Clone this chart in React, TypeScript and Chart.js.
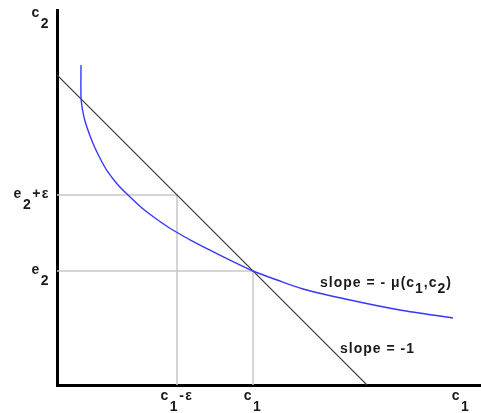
import React, { useEffect, useRef } from "react";
import { Chart, registerables } from "chart.js";

Chart.register(...registerables);

// ---- data (1 unit = 40px in the reference) ----
const C1 = 4.9; // endowment c1
const E2 = 2.85; // endowment e2
const EPS = 1.9; // epsilon
const BUDGET = C1 + E2; // x + y = const, slope -1

const curveX = [0.6, 0.6, 0.63, 0.7, 0.825, 0.95, 1.125, 1.275, 1.525, 1.775, 2.125, 2.45, 2.775, 3.025, 3.325, 3.825, 4.325, 4.9, 5.5, 6.15, 7.325, 8.575, 9.9];
const curveY = [8.0, 7.2, 6.925, 6.6, 6.23, 5.925, 5.575, 5.32, 5.0, 4.75, 4.425, 4.175, 3.95, 3.8, 3.63, 3.37, 3.12, 2.85, 2.625, 2.4, 2.125, 1.875, 1.675];

const budgetX = [0, BUDGET];
const budgetY = [BUDGET, 0];

const xTickValues = [C1 - EPS, C1, 10.1];
const xTickLabels = ["c_1-ε", "c_1", "c_1"];
const yTickValues = [E2, E2 + EPS, 9.275];
const yTickLabels = ["e_2", "e_2+ε", "c_2"];

const annotationTexts = ["slope = - μ(c_1,c_2)", "slope = -1"];

const X_MAX = 10.6;
const Y_MAX = 9.375;

const pts = (xs: number[], ys: number[]) => xs.map((x, i) => ({ x, y: ys[i] }));

type Part = { t: string; sub: boolean };
function parseRich(s: string): Part[] {
  const parts: Part[] = [];
  let buf = "";
  let i = 0;
  while (i < s.length) {
    if (s[i] === "_" && i + 1 < s.length) {
      if (buf) parts.push({ t: buf, sub: false });
      buf = "";
      parts.push({ t: s[i + 1], sub: true });
      i += 2;
    } else {
      buf += s[i];
      i++;
    }
  }
  if (buf) parts.push({ t: buf, sub: false });
  return parts;
}

function drawRich(ctx: CanvasRenderingContext2D, s: string, x: number, y: number, align: "left" | "center" | "right", subOffset: number) {
  const parts = parseRich(s);
  const widths = parts.map((p) => ctx.measureText(p.t).width);
  const total = widths.reduce((a, b) => a + b, 0);
  let cx = align === "right" ? x - total : align === "center" ? x - total / 2 : x;
  ctx.textAlign = "left";
  ctx.textBaseline = "alphabetic";
  parts.forEach((p, i) => {
    ctx.fillText(p.t, cx, y + (p.sub ? subOffset : 0));
    cx += widths[i];
  });
}

const labelPlugin = {
  id: "richLabels",
  afterDraw(chart: any) {
    const ctx: CanvasRenderingContext2D = chart.ctx;
    const xs = chart.scales.x;
    const ys = chart.scales.y;
    const area = chart.chartArea;
    ctx.save();
    ctx.fillStyle = "#1a1a1a";
    ctx.font = "bold 14px 'Liberation Sans', Arial, sans-serif";
    (ctx as any).letterSpacing = "1.5px";
    xs.ticks.forEach((t: any, i: number) => {
      const px = xs.getPixelForValue(t.value);
      drawRich(ctx, xTickLabels[i], px, area.bottom + 15, "center", 11);
    });
    ys.ticks.forEach((t: any, i: number) => {
      const py = ys.getPixelForValue(t.value);
      drawRich(ctx, yTickLabels[i], area.left - 7, py + 3, "right", 11);
    });
    (ctx as any).letterSpacing = "1px";
    const anchors = [
      { x: 6.575, y: 2.45, sub: 6 },
      { x: 7.075, y: 0.8, sub: 6 },
    ];
    annotationTexts.forEach((txt, i) => {
      const a = anchors[i];
      drawRich(ctx, txt, xs.getPixelForValue(a.x), ys.getPixelForValue(a.y), "left", a.sub);
    });
    ctx.restore();
  },
};

export default function App() {
  const ref = useRef<HTMLCanvasElement>(null);
  useEffect(() => {
    const canvas = ref.current!;
    const guide = { borderColor: "#c8c8c8", borderWidth: 1.5, pointRadius: 0, showLine: true, tension: 0, order: 2 };
    const chart = new Chart(canvas, {
      type: "scatter",
      data: {
        datasets: [
          {
            label: "indifference curve",
            data: pts(curveX, curveY),
            borderColor: "rgb(55,55,255)",
            borderWidth: 1.4,
            pointRadius: 0,
            showLine: true,
            tension: 0.3,
            order: 0,
          },
          {
            label: "budget line",
            data: pts(budgetX, budgetY),
            borderColor: "#3a3a3a",
            borderWidth: 1.1,
            pointRadius: 0,
            showLine: true,
            order: 1,
          },
          { ...guide, label: "c1-eps", data: [{ x: C1 - EPS, y: 0 }, { x: C1 - EPS, y: E2 + EPS }, { x: 0, y: E2 + EPS }] },
          { ...guide, label: "c1", data: [{ x: C1, y: 0 }, { x: C1, y: E2 }, { x: 0, y: E2 }] },
        ] as any,
      },
      options: {
        responsive: false,
        animation: false,
        devicePixelRatio: 1,
        layout: { padding: { top: 10, left: 0, right: 0, bottom: 0 } },
        plugins: { legend: { display: false }, tooltip: { enabled: false } },
        scales: {
          x: {
            type: "linear",
            min: 0,
            max: X_MAX,
            grid: { display: false },
            border: { display: true, color: "#000", width: 3 },
            ticks: { display: false },
            afterBuildTicks: (s: any) => {
              s.ticks = xTickValues.map((v) => ({ value: v }));
            },
            afterFit: (s: any) => {
              s.height = 28;
            },
          },
          y: {
            type: "linear",
            min: 0,
            max: Y_MAX,
            grid: { display: false },
            border: { display: true, color: "#000", width: 3 },
            ticks: { display: false },
            afterBuildTicks: (s: any) => {
              s.ticks = yTickValues.map((v) => ({ value: v }));
            },
            afterFit: (s: any) => {
              s.width = 57;
            },
          },
        },
      } as any,
      plugins: [labelPlugin],
    });
    return () => chart.destroy();
  }, []);
  return (
    <div style={{ position: "fixed", left: 0, top: 0, width: 481, height: 413, background: "#fff" }}>
      <canvas ref={ref} width={481} height={413} style={{ display: "block", width: 481, height: 413 }} />
    </div>
  );
}
